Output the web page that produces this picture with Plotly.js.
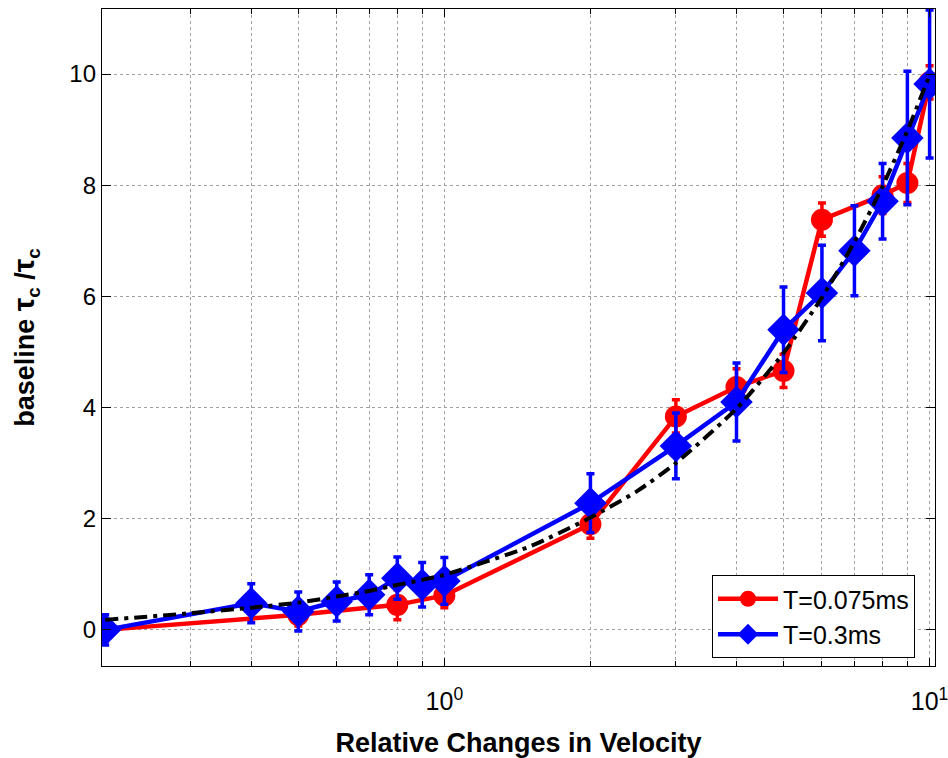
<!DOCTYPE html>
<html>
<head>
<meta charset="utf-8">
<script src="https://cdn.plot.ly/plotly-3.0.1.min.js"></script>
<style>html,body{margin:0;padding:0;background:#fff;}#chart{width:948px;height:758px;}</style>
</head>
<body>
<div id="chart"></div>
<script>
// Data
const redX   = [0.2, 0.5, 0.8, 1, 2, 3, 4, 5, 6, 8, 9, 10];
const redY   = [0.0, 0.27, 0.45, 0.62, 1.9, 3.84, 4.37, 4.66, 7.38, 7.82, 8.04, 9.85];
const redErr = [0.2, 0.2, 0.27, 0.22, 0.25, 0.3, 0.33, 0.3, 0.3, 0.33, 0.35, 0.3];

const blueX   = [0.2, 0.4, 0.5, 0.6, 0.7, 0.8, 0.9, 1, 2, 3, 4, 5, 6, 7, 8, 9, 10];
const blueY   = [0.0, 0.48, 0.33, 0.51, 0.63, 0.93, 0.81, 0.88, 2.28, 3.31, 4.1, 5.4, 6.06, 6.82, 7.71, 8.85, 9.82];
const blueErr = [0.27, 0.35, 0.35, 0.35, 0.36, 0.38, 0.4, 0.42, 0.53, 0.59, 0.7, 0.77, 0.86, 0.81, 0.68, 1.2, 1.33];

const fitX = [0.2, 0.3, 0.4, 0.5, 0.6, 0.7, 0.8, 0.9, 1, 1.5, 2, 2.5, 3, 4, 5, 6, 7, 8, 9, 10];
const fitY = [0.18, 0.3, 0.4, 0.49, 0.6, 0.7, 0.81, 0.9, 0.99, 1.5, 2.02, 2.5, 3.0, 3.98, 4.98, 5.98, 6.98, 7.98, 8.98, 9.98];

const seriesNames = ['T=0.075ms', 'T=0.3ms'];
const xMajorTicks = [1, 10];
const xMajorText = ['10<sup>0</sup>', '10<sup>1</sup>'];
const xMinorTicks = [0.3, 0.4, 0.5, 0.6, 0.7, 0.8, 0.9, 2, 3, 4, 5, 6, 7, 8, 9];
const yTicks = [0, 2, 4, 6, 8, 10];

const FONT = 'Liberation Sans, Arial, sans-serif';
const GRID = '#a0a0a0';

const traces = [
  {
    x: redX, y: redY, name: seriesNames[0], type: 'scatter', mode: 'lines+markers',
    line: {color: '#ff0000', width: 4.5},
    marker: {symbol: 'circle', size: 22, color: '#ff0000'},
    error_y: {type: 'data', array: redErr, visible: true, color: '#ff0000', thickness: 3.5, width: 4}
  },
  {
    x: blueX, y: blueY, name: seriesNames[1], type: 'scatter', mode: 'lines+markers',
    line: {color: '#0000ff', width: 4.5},
    marker: {symbol: 'diamond', size: 25, color: '#0000ff'},
    error_y: {type: 'data', array: blueErr, visible: true, color: '#0000ff', thickness: 3.5, width: 4}
  },
  {
    x: fitX, y: fitY, name: 'fit', type: 'scatter', mode: 'lines', showlegend: false,
    line: {color: '#000000', width: 4, dash: '13px,6px,4px,6px', shape: 'spline', smoothing: 0.6}
  }
];

const layout = {
  width: 948, height: 758,
  margin: {l: 102, r: 13, t: 9, b: 92},
  paper_bgcolor: '#ffffff', plot_bgcolor: '#ffffff',
  font: {family: FONT, color: '#000', size: 24},
  showlegend: true,
  legend: {
    x: 0.976, xanchor: 'right', y: 0.1385, yanchor: 'top',
    bgcolor: '#ffffff', bordercolor: '#000', borderwidth: 1,
    font: {family: FONT, size: 25, color: '#000'},
    itemwidth: 60, tracegroupgap: 0
  },
  xaxis: {
    type: 'log',
    range: [Math.log10(0.197), Math.log10(10.26)],
    showline: true, linecolor: '#000', linewidth: 1.2, mirror: 'ticks',
    ticks: 'inside', ticklen: 8, tickcolor: '#000',
    tickmode: 'array', tickvals: xMajorTicks, ticktext: xMajorText,
    tickfont: {family: FONT, size: 25, color: '#000'},
    ticklabelstandoff: 13, ticklabeloverflow: 'allow',
    showgrid: true, gridcolor: GRID, griddash: 'dot', gridwidth: 1,
    minor: {tickmode: 'array', tickvals: xMinorTicks, ticks: 'inside', ticklen: 5, tickcolor: '#000',
            showgrid: true, gridcolor: GRID, griddash: 'dot', gridwidth: 1},
    zeroline: false,
    title: {text: '<b>Relative Changes in Velocity</b>', font: {family: FONT, size: 27, color: '#000'}, standoff: 18}
  },
  yaxis: {
    range: [-0.65, 11.17],
    showline: true, linecolor: '#000', linewidth: 1.2, mirror: 'ticks',
    ticks: 'inside', ticklen: 9, tickcolor: '#000',
    tickmode: 'array', tickvals: yTicks,
    tickfont: {family: FONT, size: 24, color: '#000'},
    showgrid: true, gridcolor: GRID, griddash: 'dot', gridwidth: 1,
    zeroline: false,
    title: {text: '<b>baseline <span style="font-size:30px">τ</span><sub>c</sub> /<span style="font-size:30px">τ</span><sub>c</sub></b>', font: {family: FONT, size: 27, color: '#000'}, standoff: 26}
  }
};

Plotly.newPlot('chart', traces, layout, {displayModeBar: false, staticPlot: true});
</script>
</body>
</html>
